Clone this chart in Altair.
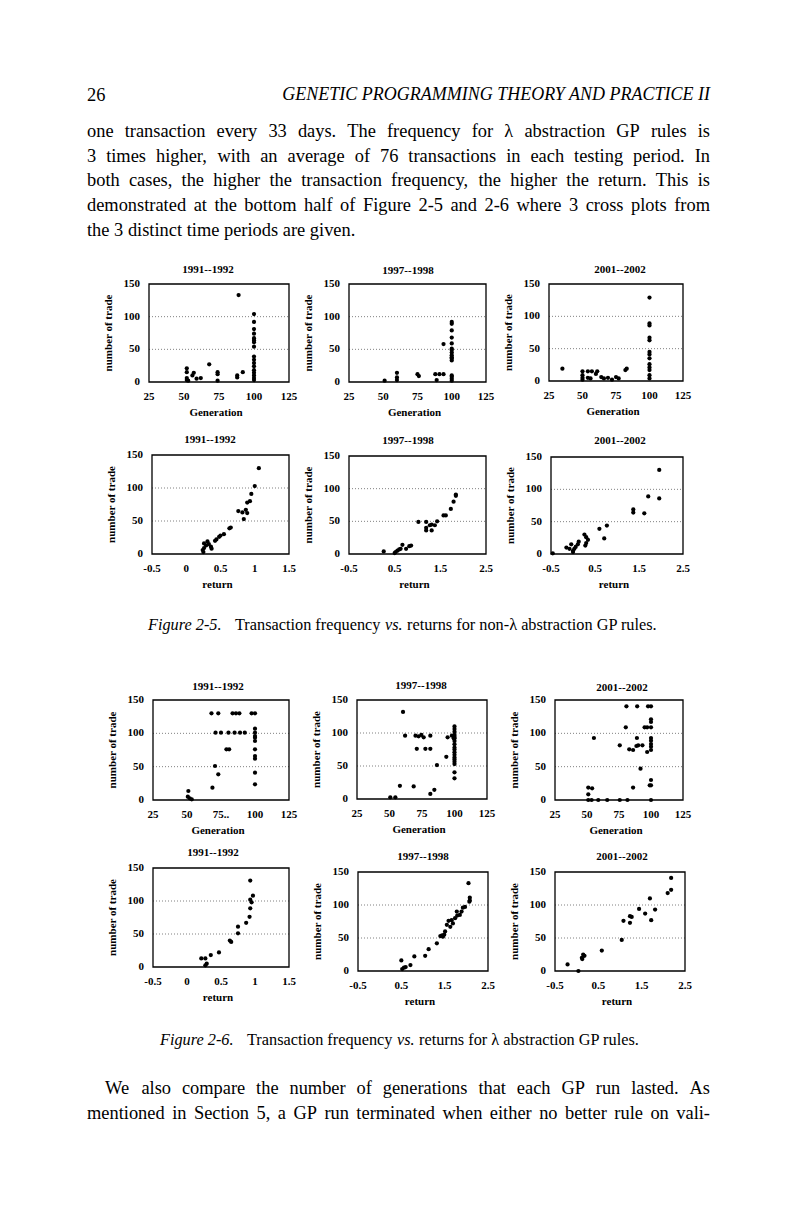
import altair as alt
import pandas as pd

SERIF = "Liberation Serif"
OX, OY = 8, 8
W, H = 784, 1150

# ---------------- page text ----------------
header_num = "26"
header_title = "GENETIC PROGRAMMING THEORY AND PRACTICE II"
para1 = [
    "one transaction every 33 days. The frequency for \u03bb abstraction GP rules is",
    "3 times higher, with an average of 76 transactions in each testing period. In",
    "both cases, the higher the transaction frequency, the higher the return. This is",
    "demonstrated at the bottom half of Figure 2-5 and 2-6 where 3 cross plots from",
    "the 3 distinct time periods are given.",
]
para2 = [
    "We also compare the number of generations that each GP run lasted. As",
    "mentioned in Section 5, a GP run terminated when either no better rule on vali-",
]
cap1 = ["Figure 2-5.", "Transaction frequency", "vs.", "returns for non-\u03bb abstraction GP rules."]
cap2 = ["Figure 2-6.", "Transaction frequency", "vs.", "returns for \u03bb abstraction GP rules."]
periods = ["1991--1992", "1997--1998", "2001--2002"]
y_title = "number of trade"
gen_title = "Generation"
ret_title = "return"
gen_ticks = [25, 50, 75, 100, 125]
gen_labels = ["25", "50", "75", "100", "125"]
gen_labels_b = ["25", "50", "75..", "100", "125"]
ret_ticks_a = [-0.5, 0, 0.5, 1, 1.5]
ret_labels_a = ["-0.5", "0", "0.5", "1", "1.5"]
ret_ticks_b = [-0.5, 0.5, 1.5, 2.5]
ret_labels_b = ["-0.5", "0.5", "1.5", "2.5"]
trade_ticks = [0, 50, 100, 150]
trade_labels = ["0", "50", "100", "150"]

# ---------------- data: Figure 2-5 (non-lambda) ----------------
f5_gen91_x = [100, 100, 100, 100, 100, 100, 100, 100, 100, 100, 100, 100, 100, 100, 100, 100, 100,
              89, 92, 88, 88, 68, 74, 74, 74, 52, 52, 52, 52, 57, 56, 59, 62, 53]
f5_gen91_y = [104, 92, 81, 74, 67, 64, 61, 54, 39, 34, 29, 24, 18, 14, 10, 6, 3,
              133, 15, 10, 7, 27, 15, 12, 2, 21, 15, 6, 3, 14, 10, 5, 6, 2]

f5_gen97_x = [100, 100, 100, 100, 100, 100, 100, 100, 100, 100, 100, 100, 100, 100, 100, 100,
              94, 88, 91, 94, 89, 75, 76, 60, 60, 60, 51]
f5_gen97_y = [92, 89, 79, 68, 59, 51, 49, 45, 41, 38, 36, 33, 10, 8, 5, 2,
              58, 12, 12, 12, 3, 12, 9, 14, 7, 3, 2]

f5_gen01_x = [100, 100, 100, 100, 100, 100, 100, 100, 100, 100, 100, 100, 100,
              83, 82, 35, 50, 50, 50, 50, 54, 57, 60, 61, 64, 66, 69, 72, 75, 77, 54, 56]
f5_gen01_y = [129, 89, 86, 67, 63, 45, 41, 35, 26, 21, 17, 9, 4,
              19, 17, 19, 15, 9, 5, 2, 15, 15, 11, 15, 6, 4, 5, 2, 6, 4, 5, 4]

f5_ret91_x = [1.06, 1.0, 0.95, 0.93, 0.89, 0.76, 0.82, 0.87, 0.89, 0.84, 0.63, 0.65, 0.55,
              0.5, 0.48, 0.44, 0.42, 0.31, 0.33, 0.29, 0.26, 0.26, 0.24, 0.25, 0.36, 0.37]
f5_ret91_y = [130, 103, 91, 80, 78, 65, 63, 67, 62, 53, 39, 40, 30,
              28, 26, 22, 20, 19, 15, 13, 16, 9, 6, 3, 11, 8]

f5_ret97_x = [1.84, 1.84, 1.79, 1.73, 1.62, 1.57, 1.43, 1.38, 1.31, 1.27, 1.19, 1.19, 1.31,
              1.19, 1.02, 0.86, 0.82, 0.75, 0.67, 0.6, 0.56, 0.52, 0.5, 0.63, 0.26]
f5_ret97_y = [91, 89, 80, 69, 59, 59, 50, 44, 45, 44, 40, 36, 36,
              49, 49, 13, 12, 8, 14, 7, 5, 3, 1.5, 8, 4]

f5_ret01_x = [1.96, 1.96, 1.71, 1.62, 1.37, 1.37, 0.77, 0.6, 0.71, 0.26, 0.3, 0.34, 0.28,
              0.13, 0.11, 0.06, 0.03, 0.0, 0.0, -0.04, -0.15, -0.08, -0.46, 0.3]
f5_ret01_y = [130, 86, 89, 63, 69, 64, 44, 39, 24, 30, 26, 22, 13,
              19, 15, 11, 8, 5, 3, 15, 10, 8, 1, 17]

# ---------------- data: Figure 2-6 (lambda) ----------------
f6_gen91_x = [68, 73, 83.5, 86, 88.5, 97.5, 100,
              71, 75, 80.5, 85, 89, 92.5, 100,
              100, 100, 100, 100, 100, 100, 100, 100, 100,
              79, 81, 70.6, 73, 68.7, 51, 50.6, 52, 53.5]
f6_gen91_y = [130, 130, 130, 130, 130, 130, 130,
              101, 101, 101, 101, 101, 101, 101,
              107, 96, 88.5, 76, 66, 62, 41, 23.5, 93.5,
              76, 76, 51, 38.5, 18.5, 13.5, 5, 2.5, 1]

f6_gen97_x = [60.4, 62, 70, 72.4, 74.5, 76.3, 81.4, 71, 77.6, 81.4, 86.5, 93.7, 94.7, 98, 99.4,
              100, 100, 100, 100, 100, 100, 100, 100, 100, 100, 100, 100, 100, 100, 100, 100, 100, 100,
              58, 68.6, 84.5, 81.4, 50.6, 54.5]
f6_gen97_y = [132, 96, 96, 95, 97, 93.4, 96, 76, 76, 76, 51.5, 64, 93.4, 96, 92,
              110, 106, 102, 97, 94, 92, 88, 83, 78, 75, 71, 67, 63, 60, 56.5, 53, 40.4, 31.3,
              20, 19, 14, 7.6, 2.5, 2.5]

f6_gen01_x = [80.8, 89.2, 97.7, 100, 80.3, 95, 97, 100, 100, 100, 55.4, 89, 100, 100, 100, 100, 100,
              75.6, 83, 86, 88.6, 90, 93.3, 97, 91.8, 86, 100, 100, 99, 51, 54, 51,
              51, 53.6, 58.8, 65.8, 75.6, 81.6, 100]
f6_gen01_y = [140.5, 140.5, 140.5, 140.5, 109, 109, 109, 121, 117, 109, 93, 93, 93, 89, 84, 80, 75,
              82, 76, 75, 81, 82, 82, 72, 47, 18.6, 22, 30, 22, 18.6, 17.6, 8.5,
              0, 0, 0, 0, 0, 0, 0]

f6_ret91_x = [0.93, 0.97, 0.93, 0.95, 0.93, 0.92, 0.87, 0.75, 0.75, 0.63, 0.65, 0.47, 0.35,
              0.21, 0.27, 0.29, 0.27]
f6_ret91_y = [131, 108, 102, 98, 89, 76, 67, 61, 51, 40, 38, 22, 18,
              13, 13, 5, 2.5]

f6_ret97_x = [2.05, 2.08, 2.08, 2.07, 1.97, 1.92, 1.89, 1.85, 1.78, 1.79, 1.74, 1.66, 1.69,
              1.59, 1.55, 1.63, 1.51, 1.49, 1.44, 1.4, 1.46, 1.32, 1.13, 1.05, 0.8, 0.71,
              0.5, 0.52, 0.56, 0.6]
f6_ret97_y = [133, 111, 107, 105, 97, 96, 90, 85, 90, 84, 80, 77, 72,
              76, 70, 67, 60, 55, 54, 53, 52, 42, 33, 23, 22, 9,
              16, 3, 5, 6]

f6_ret01_x = [2.18, 2.18, 2.1, 1.69, 1.81, 1.58, 1.72, 1.44, 1.23, 1.27, 1.23, 1.08, 1.04,
              0.58, 0.15, 0.18, 0.12, 0.13, -0.21, 0.04]
f6_ret01_y = [141, 123, 118, 110, 93, 87, 77, 94, 83, 82, 73, 76, 47,
              31, 25, 23, 20, 18, 10, 0]

# ---------------- Times-Roman advance widths (1/1000 em) for justification ----------------
_TW = {" ": 250, ".": 250, ",": 250, "-": 333, "\u03bb": 500}
_TW.update({c: 500 for c in "0123456789"})
_TW.update(dict(zip("abcdefghijklmnopqrstuvwxyz",
                    [444, 500, 444, 500, 444, 333, 500, 500, 278, 278, 500, 278, 778,
                     500, 500, 500, 500, 333, 389, 278, 500, 500, 722, 500, 500, 444])))
_TW.update(dict(zip("ABCDEFGHIJKLMNOPQRSTUVWXYZ",
                    [722, 667, 667, 722, 611, 556, 722, 722, 333, 389, 722, 611, 889,
                     722, 722, 556, 722, 667, 556, 611, 722, 722, 944, 722, 722, 611])))


def text_width(s, size):
    return sum(_TW.get(c, 500) for c in s) / 1000.0 * size


# ---------------- helpers ----------------
def txt(s, x, y, size, weight="normal", style="normal", align="left", angle=0):
    return alt.Chart(alt.Data(values=[{}])).mark_text(
        text=s, font=SERIF, fontSize=size, fontWeight=weight, fontStyle=style,
        align=align, baseline="middle", color="black", angle=angle,
    ).encode(x=alt.value(x - OX), y=alt.value(y - OY))


def line_layers(line, x0, x1, y, size, justify=True):
    words = line.split(" ")
    widths = [text_width(w, size) for w in words]
    if justify and len(words) > 1:
        gap = (x1 - x0 - sum(widths)) / (len(words) - 1)
    else:
        gap = 0.25 * size
    out, x = [], x0
    for w, wd in zip(words, widths):
        out.append(txt(w, x, y, size))
        x += wd + gap
    return out


def panel(xs, ys, xdom, xticks, xlabels, xtitle, box, title, title_pos):
    left, right, top, bottom = box
    xscale = alt.Scale(domain=xdom, range=[left - OX, right - OX], nice=False, zero=False)
    yscale = alt.Scale(domain=[0, 150], range=[bottom - OY, top - OY], nice=False, zero=False)
    pts = alt.Chart(pd.DataFrame({"v": xs, "n": ys})).mark_circle(
        size=18, color="black", opacity=1
    ).encode(x=alt.X("v:Q", scale=xscale, axis=None), y=alt.Y("n:Q", scale=yscale, axis=None))
    frame = alt.Chart(pd.DataFrame({"v": [xdom[0]], "v2": [xdom[1]], "n": [0], "n2": [150]})).mark_rect(
        fill="transparent", stroke="black", strokeWidth=1.3
    ).encode(x=alt.X("v:Q", scale=xscale, axis=None), x2="v2:Q",
             y=alt.Y("n:Q", scale=yscale, axis=None), y2="n2:Q")
    grid = alt.Chart(pd.DataFrame({"n": [50, 100], "v": [xdom[0], xdom[0]], "v2": [xdom[1], xdom[1]]})).mark_rule(
        color="#808080", strokeWidth=1, strokeDash=[1, 2]
    ).encode(y=alt.Y("n:Q", scale=yscale, axis=None),
             x=alt.X("v:Q", scale=xscale, axis=None), x2="v2:Q")
    xlab = alt.Chart(pd.DataFrame({"v": xticks, "t": xlabels})).mark_text(
        font=SERIF, fontSize=11, fontWeight="bold", align="center", baseline="middle", color="black"
    ).encode(x=alt.X("v:Q", scale=xscale, axis=None), y=alt.value(bottom - OY + 15), text="t:N")
    ylab = alt.Chart(pd.DataFrame({"n": trade_ticks, "t": trade_labels})).mark_text(
        font=SERIF, fontSize=11, fontWeight="bold", align="right", baseline="middle", color="black"
    ).encode(y=alt.Y("n:Q", scale=yscale, axis=None), x=alt.value(left - OX - 9), text="t:N")
    inner = alt.layer(grid, frame, pts, xlab, ylab)
    mid_x = (left + right) / 2 - 3
    mid_y = (top + bottom) / 2
    return [
        inner,
        txt(title, title_pos[0], title_pos[1], 11, weight="bold", align="center"),
        txt(xtitle, mid_x, bottom + 31, 11, weight="bold", align="center"),
        txt(y_title, left - 40, mid_y, 11, weight="bold", align="center", angle=270),
    ]


layers = []
BODY = 18.4
# header
layers.append(txt(header_num, 87, 95, BODY))
layers.append(txt(header_title, 710, 95, 18, style="italic", align="right"))
for i, line in enumerate(para1):
    layers += line_layers(line, 87, 710, 131 + i * 24.7, BODY, justify=(i < len(para1) - 1))

# Figure 2-5 panels
layers += panel(f5_gen91_x, f5_gen91_y, [25, 125], gen_ticks, gen_labels, gen_title, (149, 289, 284, 382), periods[0], (208, 270))
layers += panel(f5_gen97_x, f5_gen97_y, [25, 125], gen_ticks, gen_labels, gen_title, (349, 486, 284, 382), periods[1], (408, 271))
layers += panel(f5_gen01_x, f5_gen01_y, [25, 125], gen_ticks, gen_labels, gen_title, (549, 683, 284, 381), periods[2], (620, 270))
layers += panel(f5_ret91_x, f5_ret91_y, [-0.5, 1.5], ret_ticks_a, ret_labels_a, ret_title, (152, 289, 455, 554), periods[0], (210, 440))
layers += panel(f5_ret97_x, f5_ret97_y, [-0.5, 2.5], ret_ticks_b, ret_labels_b, ret_title, (349, 486, 456, 554), periods[1], (408, 441))
layers += panel(f5_ret01_x, f5_ret01_y, [-0.5, 2.5], ret_ticks_b, ret_labels_b, ret_title, (551, 683, 457, 554), periods[2], (620, 441))

# caption 2-5
CAP = 16.3
layers.append(txt(cap1[0], 148, 625, CAP, style="italic"))
layers.append(txt(cap1[1], 235, 625, CAP))
layers.append(txt(cap1[2], 385, 625, CAP, style="italic"))
layers.append(txt(cap1[3], 407, 625, CAP))

# Figure 2-6 panels
layers += panel(f6_gen91_x, f6_gen91_y, [25, 125], gen_ticks, gen_labels_b, gen_title, (153, 289, 700, 800), periods[0], (218, 687))
layers += panel(f6_gen97_x, f6_gen97_y, [25, 125], gen_ticks, gen_labels, gen_title, (357, 487, 700, 799), periods[1], (421, 686))
layers += panel(f6_gen01_x, f6_gen01_y, [25, 125], gen_ticks, gen_labels, gen_title, (555, 683, 700, 800), periods[2], (622, 688))
layers += panel(f6_ret91_x, f6_ret91_y, [-0.5, 1.5], ret_ticks_a, ret_labels_a, ret_title, (153, 289, 868, 967), periods[0], (213, 853))
layers += panel(f6_ret97_x, f6_ret97_y, [-0.5, 2.5], ret_ticks_b, ret_labels_b, ret_title, (358, 488, 872, 971), periods[1], (423, 857))
layers += panel(f6_ret01_x, f6_ret01_y, [-0.5, 2.5], ret_ticks_b, ret_labels_b, ret_title, (555, 685, 872, 971), periods[2], (622, 857))

# caption 2-6
layers.append(txt(cap2[0], 160, 1040, CAP, style="italic"))
layers.append(txt(cap2[1], 247, 1040, CAP))
layers.append(txt(cap2[2], 397, 1040, CAP, style="italic"))
layers.append(txt(cap2[3], 419, 1040, CAP))

# closing paragraph
layers += line_layers(para2[0], 105, 710, 1088, BODY)
layers += line_layers(para2[1], 87, 710, 1113, BODY)

chart = alt.layer(*layers).resolve_scale(x="independent", y="independent").properties(
    width=W, height=H, padding=0
).configure_view(stroke="transparent")

chart.save("out.html", embed_options={"renderer": "svg", "actions": False})
